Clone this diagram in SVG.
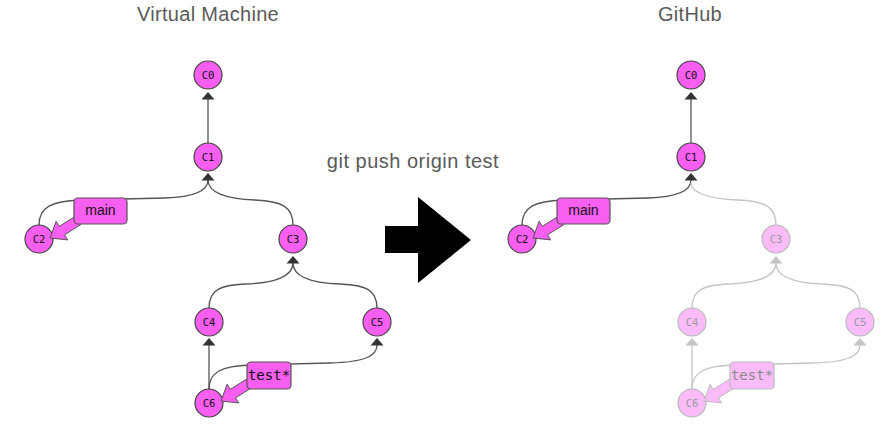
<svg xmlns="http://www.w3.org/2000/svg" width="892" height="424" viewBox="0 0 892 424">
<style>
.title{font-family:"Liberation Sans",Arial,sans-serif;font-size:20px;fill:#5a5a5a;text-anchor:middle;letter-spacing:0.3px}
.node circle{fill:#f85ef0;stroke:#444;stroke-width:1.2}
.node text{font-family:"DejaVu Sans Mono","Liberation Mono",monospace;font-size:10.5px;fill:#111;text-anchor:middle}
.faded circle{fill:#fabcf8;stroke:#b8b8b8}
.faded text{fill:#9a9a9a}
.edge{fill:none;stroke:#555;stroke-width:1.3}
.head{fill:#333}
.edge.f{stroke:#c4c4c4}
.head.f{fill:#c4c4c4}
.lbl rect{fill:#f85ef0;stroke:#555;stroke-width:1.2}
.lbl polygon{fill:#f85ef0;stroke:#555;stroke-width:1}
.lbl text{font-size:14px;fill:#111;text-anchor:middle}
.lbl.f rect,.lbl.f polygon{fill:#fabcf8;stroke:#bbb}
.lbl.f text{fill:#8a8a8a}
.sans{font-family:"Liberation Sans",Arial,sans-serif}
.mono{font-family:"DejaVu Sans Mono","Liberation Mono",monospace;font-size:12.5px}
</style>
<defs>
<polygon id="ah" points="0,0 -6.5,7.5 6.5,7.5"/>
</defs>

<text class="title" x="208" y="21">Virtual Machine</text>
<text class="title" x="690" y="21">GitHub</text>
<text class="title" x="413" y="168" style="letter-spacing:0.5px">git push origin test</text>
<polygon id="bigarrow" points="385,226 418,226 418,197 471,240 418,283 418,253 385,253" fill="#000"/>

<g id="connectors">
  <path class="edge" d="M208,143 L208,99"/>
  <use href="#ah" class="head" x="208" y="92"/>
  <path class="edge" d="M39,225 C39,207 52,201 80,200 L165,198 C195,197 208,191 208,180"/>
  <path class="edge" d="M293,225 C293,207 282,201 255,200 C225,199 208,192 208,180"/>
  <use href="#ah" class="head" x="208" y="173"/>
  <path class="edge" d="M209,308 C209,290 220,285 245,284 C275,283 293,276 293,263"/>
  <path class="edge" d="M377,308 C377,290 366,285 340,284 C310,283 293,276 293,263"/>
  <use href="#ah" class="head" x="293" y="256"/>
  <path class="edge" d="M209,389 L209,345"/>
  <use href="#ah" class="head" x="209" y="338"/>
  <path class="edge" d="M209,389 C209,372 222,366 250,365 L330,363 C365,362 377,356 377,345"/>
  <use href="#ah" class="head" x="377" y="338"/>
  <path class="edge" d="M691,143 L691,99"/>
  <use href="#ah" class="head" x="691" y="92"/>
  <path class="edge" d="M522,225 C522,207 535,201 563,200 L648,198 C678,197 691,191 691,180"/>
  <path class="edge f" d="M776,225 C776,207 765,201 738,200 C708,199 691,192 691,183"/>
  <use href="#ah" class="head" x="691" y="173"/>
  <path class="edge f" d="M692,308 C692,290 703,285 728,284 C758,283 776,276 776,263"/>
  <path class="edge f" d="M860,308 C860,290 849,285 823,284 C793,283 776,276 776,263"/>
  <use href="#ah" class="head f" x="776" y="256"/>
  <path class="edge f" d="M692,389 L692,345"/>
  <use href="#ah" class="head f" x="692" y="338"/>
  <path class="edge f" d="M692,389 C692,372 705,366 733,365 L813,363 C848,362 860,356 860,345"/>
  <use href="#ah" class="head f" x="860" y="338"/>
</g>

<g id="vm-C0" class="node"><circle cx="208" cy="75" r="14"/><text x="208" y="78.8">C0</text></g>
<g id="vm-C1" class="node"><circle cx="208" cy="157" r="14"/><text x="208" y="160.8">C1</text></g>
<g id="vm-C2" class="node"><circle cx="39" cy="239" r="14"/><text x="39" y="242.8">C2</text></g>
<g id="vm-C3" class="node"><circle cx="293" cy="239" r="14"/><text x="293" y="242.8">C3</text></g>
<g id="vm-C4" class="node"><circle cx="209" cy="322" r="14"/><text x="209" y="325.8">C4</text></g>
<g id="vm-C5" class="node"><circle cx="377" cy="322" r="14"/><text x="377" y="325.8">C5</text></g>
<g id="vm-C6" class="node"><circle cx="209" cy="403" r="14"/><text x="209" y="406.8">C6</text></g>

<g id="vm-main" class="lbl">
  <polygon points="75.35,216.26 59.25,226.36 56.1,221.3 50,238 67.7,239.9 64.55,234.84 80.65,224.74"/>
  <rect x="74" y="198" width="53" height="26" rx="4"/>
  <text class="sans" x="100.5" y="215">main</text>
</g>
<g id="vm-test" class="lbl">
  <polygon transform="translate(171,163)" points="75.35,216.26 59.25,226.36 56.1,221.3 50,238 67.7,239.9 64.55,234.84 80.65,224.74"/>
  <rect x="247" y="362" width="44" height="27" rx="4"/>
  <text class="mono" x="269" y="380">test*</text>
</g>

<g id="gh-C0" class="node"><circle cx="691" cy="75" r="14"/><text x="691" y="78.8">C0</text></g>
<g id="gh-C1" class="node"><circle cx="691" cy="157" r="14"/><text x="691" y="160.8">C1</text></g>
<g id="gh-C2" class="node"><circle cx="522" cy="239" r="14"/><text x="522" y="242.8">C2</text></g>
<g id="gh-C3" class="node faded"><circle cx="776" cy="239" r="14"/><text x="776" y="242.8">C3</text></g>
<g id="gh-C4" class="node faded"><circle cx="692" cy="322" r="14"/><text x="692" y="325.8">C4</text></g>
<g id="gh-C5" class="node faded"><circle cx="860" cy="322" r="14"/><text x="860" y="325.8">C5</text></g>
<g id="gh-C6" class="node faded"><circle cx="692" cy="403" r="14"/><text x="692" y="406.8">C6</text></g>

<g id="gh-main" class="lbl">
  <polygon transform="translate(483,0)" points="75.35,216.26 59.25,226.36 56.1,221.3 50,238 67.7,239.9 64.55,234.84 80.65,224.74"/>
  <rect x="557" y="198" width="53" height="26" rx="4"/>
  <text class="sans" x="583.5" y="215">main</text>
</g>
<g id="gh-test" class="lbl f">
  <polygon transform="translate(654,163)" points="75.35,216.26 59.25,226.36 56.1,221.3 50,238 67.7,239.9 64.55,234.84 80.65,224.74"/>
  <rect x="730" y="362" width="44" height="27" rx="4"/>
  <text class="mono" x="752" y="380">test*</text>
</g>
</svg>
